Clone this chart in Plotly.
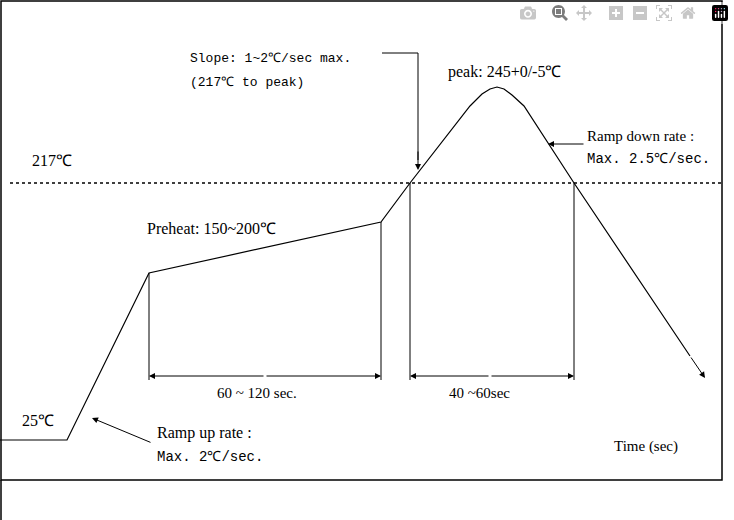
import plotly.graph_objects as go

# Diagram units (schematic, not to scale): x = time position, y = temperature position
profile_x = [0, 67, 149, 381, 410, 470, 482, 490, 497, 504, 512, 524, 574, 690]
profile_y = [440, 440, 273, 222, 183, 106, 94, 89, 87, 89, 95, 106, 183, 356]
liquidus_y = 183
vlines_x = [149, 381, 410, 574]
vlines_top = [273, 222, 183, 183]
span_y = 376

serif = "Liberation Serif"
mono = "Liberation Mono"

fig = go.Figure()
fig.add_trace(go.Scatter(x=profile_x, y=profile_y, mode="lines",
                         line=dict(color="black", width=1.2), hoverinfo="skip"))
fig.add_trace(go.Scatter(x=[10, 722], y=[liquidus_y, liquidus_y], mode="lines",
                         line=dict(color="black", width=1.5, dash="dot"), hoverinfo="skip"))
for vx, vt in zip(vlines_x, vlines_top):
    fig.add_trace(go.Scatter(x=[vx, vx], y=[vt, 380], mode="lines",
                             line=dict(color="black", width=1), hoverinfo="skip"))
fig.add_trace(go.Scatter(x=[382, 418, 418], y=[53, 53, 160], mode="lines",
                         line=dict(color="black", width=1), hoverinfo="skip"))

ann = []
def arrow(x0, y0, x1, y1):
    ann.append(dict(x=x1, y=y1, ax=x0, ay=y0, xref="x", yref="y", axref="x", ayref="y",
                    showarrow=True, arrowhead=2, arrowsize=1.2, arrowwidth=1,
                    arrowcolor="black", text=""))
arrow(profile_x[-1], profile_y[-1], 705, 378)
arrow(265, span_y, 149, span_y); arrow(265, span_y, 381, span_y)
arrow(490, span_y, 410, span_y); arrow(490, span_y, 574, span_y)
arrow(152, 443, 92, 418)
arrow(418, 150, 418, 170)
arrow(585, 144, 548, 144)

def txt(x, y, s, font=serif, size=16):
    ann.append(dict(x=x, y=y, xref="x", yref="y", text=s, showarrow=False,
                    xanchor="left", yanchor="middle", font=dict(family=font, size=size, color="black")))
txt(30, 160, "217℃")
txt(20, 420, "25℃")
txt(145, 228, "Preheat: 150~200℃")
txt(215, 393, "60 ~ 120 sec.", size=15)
txt(447, 393, "40 ~60sec", size=15)
txt(155, 433, "Ramp up rate :")
txt(155, 457, "Max. 2℃/sec.", font=mono, size=14)
txt(612, 446, "Time (sec)", size=15)
txt(188, 58, "Slope: 1~2℃/sec max.", font=mono, size=13)
txt(188, 82, "(217℃ to peak)", font=mono, size=13)
txt(446, 72, "peak: 245+0/-5℃")
txt(585, 136, "Ramp down rate :", size=15)
txt(585, 159, "Max. 2.5℃/sec.", font=mono, size=14)

fig.update_layout(
    width=734, height=520, margin=dict(l=0, r=0, t=0, b=0),
    paper_bgcolor="white", plot_bgcolor="white", showlegend=False,
    xaxis=dict(range=[0, 734], visible=False),
    yaxis=dict(range=[520, 0], visible=False),
    annotations=ann,
    shapes=[dict(type="rect", xref="x", yref="y", x0=1, y0=1, x1=722, y1=480,
                 line=dict(color="black", width=1.5)),
            dict(type="line", xref="x", yref="y", x0=1, y0=480, x1=1, y1=520,
                 line=dict(color="black", width=1.5))],
)
fig.write_html("out.html", post_script="document.body.style.margin='0';")
